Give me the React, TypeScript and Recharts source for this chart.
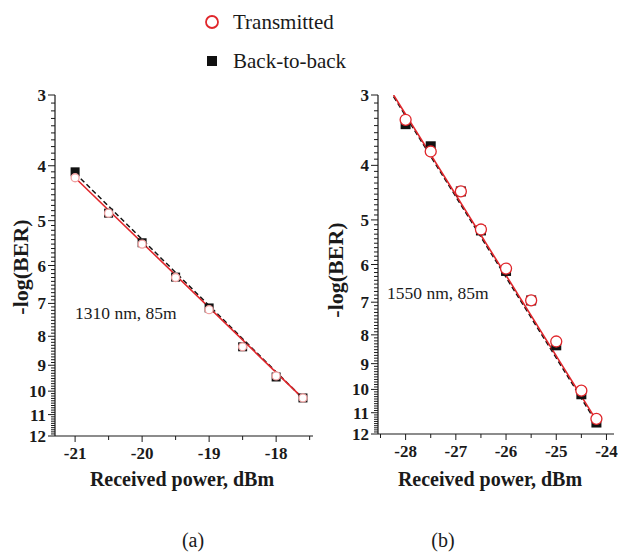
import { ComposedChart, Scatter, Line, XAxis, YAxis } from 'recharts'

// panel (a): 1310 nm, 85m
const powerA = [-21, -20.5, -20, -19.5, -19, -18.5, -18, -17.6]
const b2bA = [4.1, 4.85, 5.47, 6.29, 7.13, 8.35, 9.44, 10.28]
const transA = [4.2, 4.85, 5.5, 6.3, 7.18, 8.35, 9.4, 10.28]
const fitPowerA = [-21, -17.6]
const fitTransA = [4.2, 10.3]
const fitB2bA = [4.12, 10.3]

// panel (b): 1550 nm, 85m
const powerB = [-28, -27.5, -26.9, -26.5, -26, -25.5, -25, -24.5, -24.2]
const b2bB = [3.38, 3.7, 4.45, 5.22, 6.16, 6.95, 8.35, 10.2, 11.45]
const transB = [3.32, 3.78, 4.45, 5.2, 6.1, 6.95, 8.22, 10.05, 11.28]
const fitPowerB = [-28.24, -24.2]
const fitTransB = [3, 11.35]
const fitB2bB = [3.02, 11.45]

const yMajor = [3, 4, 5, 6, 7, 8, 9, 10, 11, 12]
const yTicks: number[] = []
for (let i = 30; i <= 120; i++) yTicks.push(i / 10)
const xTicksA = [-21, -20.5, -20, -19.5, -19, -18.5, -18, -17.5]
const xTicksB = [-28.5, -28, -27.5, -27, -26.5, -26, -25.5, -25, -24.5, -24]

const zip = (xs: number[], ys: number[]) => xs.map((x, i) => ({ x, y: ys[i] }))

const FONT = '"Liberation Serif", "Times New Roman", serif'
const INK = '#1a1a1a'
const RED = '#e0262b'

function YTick(props: any) {
  const { x, y, payload } = props
  const v = payload.value
  const major = yMajor.some((m) => Math.abs(m - v) < 1e-6)
  return (
    <g>
      <line x1={x - (major ? 7 : 4)} x2={x} y1={y} y2={y} stroke={INK} strokeWidth={1} />
      {major && (
        <text x={x - 9} y={y + 6} textAnchor="end" fontFamily={FONT} fontWeight="bold" fontSize={17} fill={INK}>
          {v}
        </text>
      )}
    </g>
  )
}

function XTick(props: any) {
  const { x, y, payload } = props
  const v = payload.value
  const major = Number.isInteger(v)
  return (
    <g>
      <line x1={x} x2={x} y1={y} y2={y + (major ? 6 : 4)} stroke={INK} strokeWidth={1} />
      {major && (
        <text x={x} y={y + 23} textAnchor="middle" fontFamily={FONT} fontWeight="bold" fontSize={17} fill={INK}>
          {v}
        </text>
      )}
    </g>
  )
}

const squareShape = (side: number) => (p: any) => (
  <rect x={p.cx - side / 2} y={p.cy - side / 2} width={side} height={side} fill="#111" />
)
const circleShape = (r: number, stroke: string, sw: number) => (p: any) => (
  <circle cx={p.cx} cy={p.cy} r={r} fill="#fff" stroke={stroke} strokeWidth={sw} />
)

interface PanelProps {
  width: number
  yAxisWidth: number
  right: number
  xDomain: number[]
  xTicks: number[]
  power: number[]
  b2b: number[]
  trans: number[]
  fitPower: number[]
  fitTrans: number[]
  fitB2b: number[]
  squareSide: number
  circleR: number
  circleStroke: string
  bottom: number
}

function Panel(p: PanelProps) {
  return (
    <ComposedChart
      width={p.width}
      height={555}
      margin={{ top: 95, right: p.right, left: 0, bottom: p.bottom }}
    >
      <XAxis
        type="number"
        dataKey="x"
        domain={p.xDomain}
        ticks={p.xTicks}
        interval={0}
        allowDataOverflow
        height={30}
        tickSize={0}
        tickMargin={0}
        tickLine={false}
        tick={<XTick />}
        axisLine={{ stroke: INK, strokeWidth: 1.2 }}
      />
      <YAxis
        type="number"
        dataKey="y"
        scale="log"
        domain={[3, 12]}
        reversed
        allowDataOverflow
        ticks={yTicks}
        interval={0}
        width={p.yAxisWidth}
        tickSize={0}
        tickMargin={0}
        tickLine={false}
        tick={<YTick />}
        axisLine={{ stroke: INK, strokeWidth: 1.2 }}
      />
      <Scatter data={zip(p.power, p.b2b)} dataKey="y" shape={squareShape(p.squareSide)} isAnimationActive={false} />
      <Scatter
        data={zip(p.power, p.trans)}
        dataKey="y"
        shape={circleShape(p.circleR, p.circleStroke, 1.3)}
        isAnimationActive={false}
      />
      <Line
        data={zip(p.fitPower, p.fitB2b)}
        dataKey="y"
        type="linear"
        stroke="#111"
        strokeWidth={1.5}
        strokeDasharray="5 3"
        dot={false}
        activeDot={false}
        isAnimationActive={false}
      />
      <Line
        data={zip(p.fitPower, p.fitTrans)}
        dataKey="y"
        type="linear"
        stroke={RED}
        strokeWidth={1.6}
        dot={false}
        activeDot={false}
        isAnimationActive={false}
      />
    </ComposedChart>
  )
}

export default function App() {
  const title = { fontFamily: FONT, fontWeight: 'bold' as const, fill: INK }
  return (
    <div style={{ position: 'absolute', left: 0, top: 0, width: 618, height: 555, background: '#fff' }}>
      <div style={{ position: 'absolute', left: 0, top: 0 }}>
        <Panel
          width={320}
          yAxisWidth={55}
          right={7}
          bottom={89}
          xDomain={[-21.3, -17.45]}
          xTicks={xTicksA}
          power={powerA}
          b2b={b2bA}
          trans={transA}
          fitPower={fitPowerA}
          fitTrans={fitTransA}
          fitB2b={fitB2bA}
          squareSide={9}
          circleR={4}
          circleStroke="#f0a0a0"
        />
      </div>
      <div style={{ position: 'absolute', left: 320, top: 0 }}>
        <Panel
          width={298}
          yAxisWidth={58}
          right={4}
          bottom={91}
          xDomain={[-28.55, -23.85]}
          xTicks={xTicksB}
          power={powerB}
          b2b={b2bB}
          trans={transB}
          fitPower={fitPowerB}
          fitTrans={fitTransB}
          fitB2b={fitB2bB}
          squareSide={10}
          circleR={5.5}
          circleStroke={RED}
        />
      </div>
      <svg width={618} height={555} style={{ position: 'absolute', left: 0, top: 0, pointerEvents: 'none' }}>
        {/* legend */}
        <circle cx={212} cy={22} r={6} fill="#fff" stroke={RED} strokeWidth={1.8} />
        <text x={233} y={29} fontFamily={FONT} fontSize={21} fill={INK}>Transmitted</text>
        <rect x={207} y={56} width={10} height={10} fill="#111" />
        <text x={233} y={68} fontFamily={FONT} fontSize={21} fill={INK}>Back-to-back</text>

        {/* annotations */}
        <text x={75} y={319} fontFamily={FONT} fontSize={17.5} fill={INK}>1310 nm, 85m</text>
        <text x={387} y={299} fontFamily={FONT} fontSize={17.5} fill={INK}>1550 nm, 85m</text>

        {/* axis titles */}
        <text x={182} y={486} textAnchor="middle" fontSize={20} {...title}>Received power, dBm</text>
        <text x={490} y={486} textAnchor="middle" fontSize={20} {...title}>Received power, dBm</text>
        <text transform="translate(28,267) rotate(-90)" textAnchor="middle" fontSize={22} {...title}>-log(BER)</text>
        <text transform="translate(343,270) rotate(-90)" textAnchor="middle" fontSize={22} {...title}>-log(BER)</text>

        {/* panel captions */}
        <text x={193} y={547} textAnchor="middle" fontFamily={FONT} fontSize={20} fill={INK}>(a)</text>
        <text x={443} y={547} textAnchor="middle" fontFamily={FONT} fontSize={20} fill={INK}>(b)</text>
      </svg>
    </div>
  )
}
